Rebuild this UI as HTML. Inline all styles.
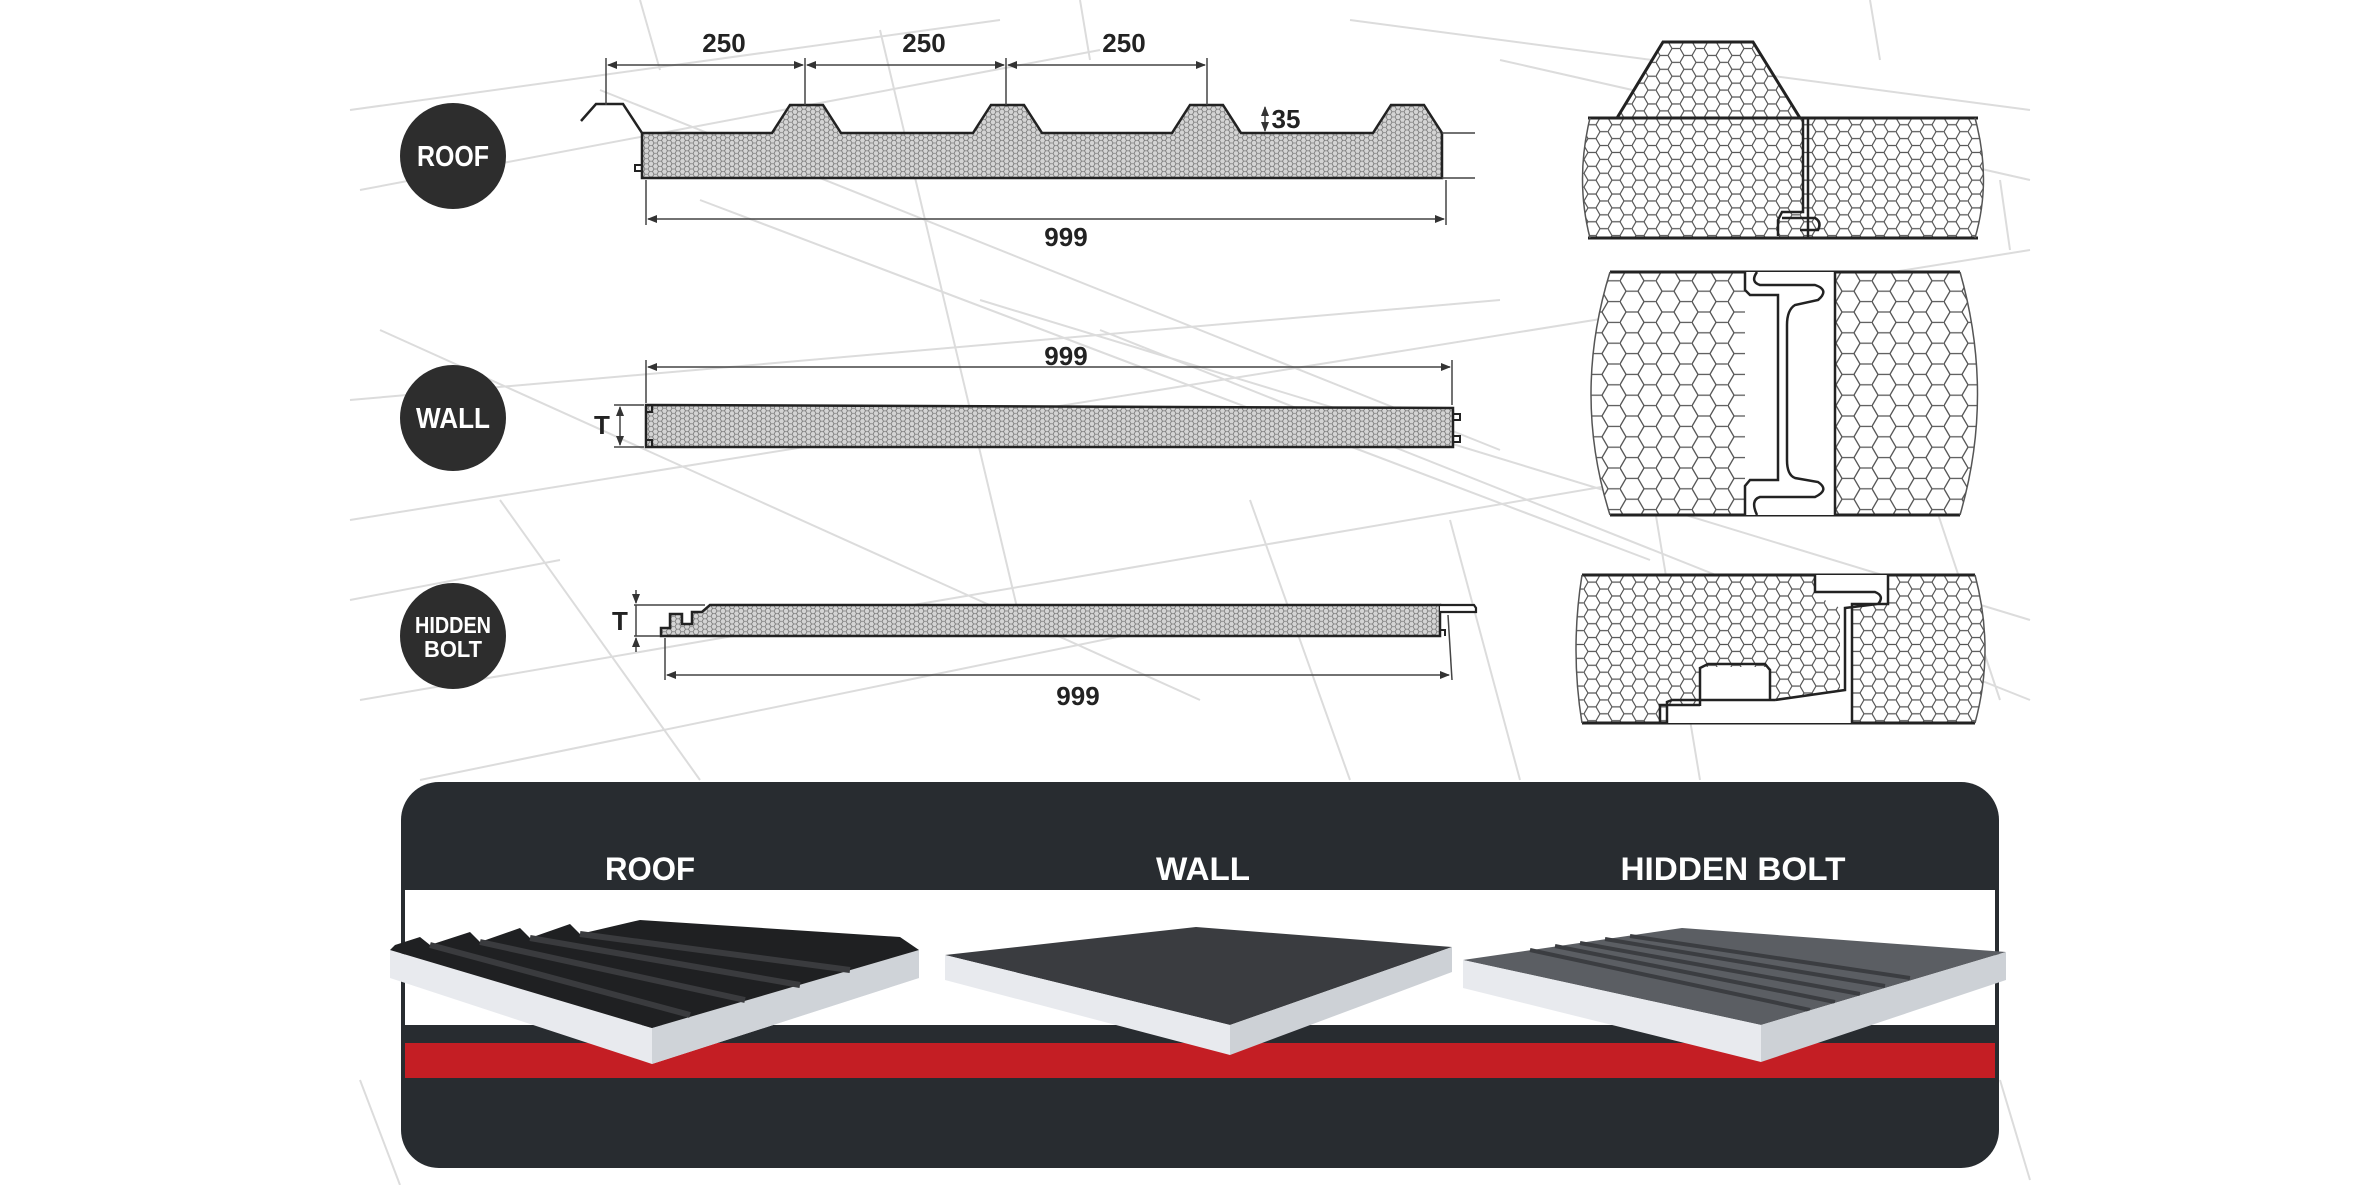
<!DOCTYPE html>
<html><head><meta charset="utf-8"><style>
html,body{margin:0;padding:0;background:#fff;}
svg{display:block;}
text{font-family:"Liberation Sans",sans-serif;font-weight:bold;}
</style></head><body>
<svg width="2370" height="1185" viewBox="0 0 2370 1185" xmlns="http://www.w3.org/2000/svg">
<defs>
<pattern id="hs" width="9" height="5.2" patternUnits="userSpaceOnUse">
<rect width="9" height="5.2" fill="#d4d4d4"/>
<path d="M0,2.6 L1.5,0 L4.5,0 L6,2.6 L9,2.6 M0,2.6 L1.5,5.2 L4.5,5.2 L6,2.6" fill="none" stroke="#777" stroke-width="0.8"/>
</pattern>
<pattern id="hm" width="24" height="13.86" patternUnits="userSpaceOnUse">
<rect width="24" height="13.86" fill="#fff"/>
<path d="M0,6.93 L4,0 L12,0 L16,6.93 L24,6.93 M0,6.93 L4,13.86 L12,13.86 L16,6.93" fill="none" stroke="#555" stroke-width="1.2"/>
</pattern>
<pattern id="hl" width="36" height="20.8" patternUnits="userSpaceOnUse">
<rect width="36" height="20.8" fill="#fff"/>
<path d="M0,10.4 L6,0 L18,0 L24,10.4 L36,10.4 M0,10.4 L6,20.8 L18,20.8 L24,10.4" fill="none" stroke="#555" stroke-width="1.3"/>
</pattern>
<marker id="ar" markerWidth="10" markerHeight="8" refX="9" refY="4" orient="auto-start-reverse" markerUnits="userSpaceOnUse"><path d="M0,0 L10,4 L0,8 z" fill="#333"/></marker>
</defs>

<g stroke="#dcdcdc" stroke-width="2" fill="none">
<path d="M350,110 L1000,20 M360,190 L1100,50 M350,400 L1500,300 M350,520 L2030,250 M360,700 L1700,470 M420,780 L1200,620 M980,300 L2030,620 M700,200 L1650,560 M1350,20 L2030,110 M1500,60 L2030,180 M380,330 L1200,700 M600,90 L1500,450 M1100,330 L2030,700 M500,500 L700,780 M1250,500 L1350,780 M1450,520 L1520,780 M1650,480 L1700,780 M1900,400 L2000,700 M880,30 L1020,620 M640,0 L660,70 M1080,0 L1090,60 M1870,0 L1880,60 M350,600 L560,560 M2000,180 L2010,250 M360,1080 L400,1185 M2000,1080 L2030,1180"/>
</g>

<g fill="#2d2d2d">
<circle cx="453" cy="156" r="53"/>
<circle cx="453" cy="418" r="53"/>
<circle cx="453" cy="636" r="53"/>
</g>
<g fill="#fff" text-anchor="middle">
<text x="453" y="166" font-size="29" textLength="72" lengthAdjust="spacingAndGlyphs">ROOF</text>
<text x="453" y="428" font-size="29" textLength="74" lengthAdjust="spacingAndGlyphs">WALL</text>
<text x="453" y="633" font-size="23" textLength="76" lengthAdjust="spacingAndGlyphs">HIDDEN</text>
<text x="453" y="657" font-size="23" textLength="58" lengthAdjust="spacingAndGlyphs">BOLT</text>
</g>

<path d="M642,133 L772,133 L790,105 L823,105 L841,133 L973,133 L991,105 L1024,105 L1042,133 L1172,133 L1190,105 L1223,105 L1241,133 L1373,133 L1391,105 L1424,105 L1442,133 L1442,178 L642,178 Z" fill="url(#hs)" stroke="#222" stroke-width="2.5"/>
<path d="M581,121 L596,104 L623,104 L642,133" fill="none" stroke="#222" stroke-width="2.5"/>
<path d="M642,165 L635,165 L635,171 L642,171" fill="none" stroke="#222" stroke-width="2"/>
<g stroke="#444" stroke-width="1.5" fill="none">
<line x1="606" y1="58" x2="606" y2="105"/><line x1="805" y1="58" x2="805" y2="105"/><line x1="1006" y1="58" x2="1006" y2="105"/><line x1="1207" y1="58" x2="1207" y2="105"/>
<line x1="608" y1="65" x2="803" y2="65" marker-start="url(#ar)" marker-end="url(#ar)"/>
<line x1="807" y1="65" x2="1004" y2="65" marker-start="url(#ar)" marker-end="url(#ar)"/>
<line x1="1008" y1="65" x2="1205" y2="65" marker-start="url(#ar)" marker-end="url(#ar)"/>
<line x1="1265" y1="107" x2="1265" y2="131" marker-start="url(#ar)" marker-end="url(#ar)"/>
<line x1="1442" y1="133" x2="1475" y2="133"/><line x1="1442" y1="178" x2="1475" y2="178"/>
<line x1="646" y1="180" x2="646" y2="225"/><line x1="1446" y1="180" x2="1446" y2="225"/>
<line x1="648" y1="219" x2="1444" y2="219" marker-start="url(#ar)" marker-end="url(#ar)"/>
</g>
<g fill="#222" font-size="26" text-anchor="middle">
<text x="724" y="52">250</text><text x="924" y="52">250</text><text x="1124" y="52">250</text>
<text x="1286" y="128">35</text>
<text x="1066" y="246">999</text>
</g>

<path d="M646,405 L1453,408 L1453,447 L646,447 Z" fill="url(#hs)" stroke="#222" stroke-width="2.5"/>
<path d="M646,405 L652,405 L652,412 L646,412 M646,440 L652,440 L652,447 M1453,414 L1460,414 L1460,420 L1453,420 M1453,436 L1460,436 L1460,442 L1453,442" fill="none" stroke="#222" stroke-width="2"/>
<g stroke="#444" stroke-width="1.5" fill="none">
<line x1="646" y1="360" x2="646" y2="403"/><line x1="1452" y1="360" x2="1452" y2="405"/>
<line x1="648" y1="367" x2="1450" y2="367" marker-start="url(#ar)" marker-end="url(#ar)"/>
<line x1="620" y1="407" x2="620" y2="445" marker-start="url(#ar)" marker-end="url(#ar)"/>
<line x1="614" y1="405" x2="644" y2="405"/><line x1="614" y1="447" x2="644" y2="447"/>
</g>
<g fill="#222" font-size="26" text-anchor="middle">
<text x="1066" y="365">999</text>
<text x="602" y="434">T</text>
</g>

<path d="M661,636 L661,628 L670,628 L670,614 L682,614 L682,624 L692,624 L692,612 L702,612 L710,605 L1440,605 L1440,612 L1440,636 Z" fill="url(#hs)" stroke="#222" stroke-width="2.5"/>
<path d="M1440,605 L1474,605 L1476,608 L1476,612 L1440,612" fill="#fff" stroke="#222" stroke-width="2.2"/>
<path d="M1440,630 L1445,630 L1445,636" fill="none" stroke="#222" stroke-width="2"/>
<g stroke="#444" stroke-width="1.5" fill="none">
<line x1="634" y1="605" x2="705" y2="605"/><line x1="634" y1="636" x2="660" y2="636"/>
<line x1="636" y1="590" x2="636" y2="603" marker-end="url(#ar)"/>
<line x1="636" y1="652" x2="636" y2="638" marker-end="url(#ar)"/>
<line x1="636" y1="605" x2="636" y2="636"/>
<line x1="665" y1="638" x2="665" y2="680"/><line x1="1448" y1="615" x2="1452" y2="680"/>
<line x1="667" y1="675" x2="1449" y2="675" marker-start="url(#ar)" marker-end="url(#ar)"/>
</g>
<g fill="#222" font-size="26" text-anchor="middle">
<text x="620" y="630">T</text>
<text x="1078" y="705">999</text>
</g>

<path d="M1590,118 L1617,118 L1663,42 L1753,42 L1800,118 L1975,118 Q1992,180 1975,238 L1590,238 Q1575,180 1590,118 Z" fill="url(#hm)" stroke="none"/>
<path d="M1617,118 L1663,42 L1753,42 L1800,118" fill="none" stroke="#222" stroke-width="3"/>
<line x1="1588" y1="118" x2="1978" y2="118" stroke="#222" stroke-width="3"/>
<line x1="1588" y1="238" x2="1978" y2="238" stroke="#222" stroke-width="3"/>
<path d="M1590,118 Q1575,180 1590,238 M1975,118 Q1992,180 1975,238" fill="none" stroke="#555" stroke-width="1.5"/>
<path d="M1803,118 L1803,212 L1782,212 L1778,220 L1778,236 M1808,118 L1808,238 M1782,218 L1815,218 Q1822,222 1818,230 L1800,230" fill="none" stroke="#222" stroke-width="2.5"/>

<path d="M1610,272 L1960,272 Q1995,395 1960,515 L1610,515 Q1572,395 1610,272 Z" fill="url(#hl)"/>
<path d="M1610,272 L1960,272 M1610,515 L1960,515" stroke="#222" stroke-width="3"/>
<path d="M1610,272 Q1572,395 1610,515 M1960,272 Q1995,395 1960,515" fill="none" stroke="#555" stroke-width="1.5"/>
<rect x="1745" y="272" width="90" height="243" fill="#fff"/>
<path d="M1745,272 L1745,290 L1750,295 L1778,295 L1778,480 L1750,480 L1745,486 L1745,515 M1757,272 Q1750,282 1760,285 L1815,285 Q1830,290 1818,300 L1795,305 Q1787,310 1787,325 L1787,460 Q1787,475 1795,478 L1818,482 Q1830,490 1815,497 L1760,497 Q1750,500 1757,515 M1835,272 L1835,515" fill="none" stroke="#222" stroke-width="2.5"/>

<path d="M1582,575 L1975,575 Q1995,650 1975,723 L1582,723 Q1570,650 1582,575 Z" fill="url(#hm)"/>
<path d="M1582,575 L1975,575 M1582,723 L1975,723" stroke="#222" stroke-width="3"/>
<path d="M1582,575 Q1570,650 1582,723 M1975,575 Q1995,650 1975,723" fill="none" stroke="#555" stroke-width="1.5"/>
<path d="M1815,575 L1888,575 L1888,604 L1852,604 L1852,700 L1853,723 L1667,723 L1667,706 L1700,706 L1700,667 L1770,667 L1770,700 L1840,692 L1840,608 L1815,595 Z" fill="#fff"/>
<path d="M1815,575 L1815,592 L1875,592 Q1885,596 1878,604 L1845,608 L1845,690 L1775,700 M1888,575 L1888,604 L1852,604 L1852,723 M1700,706 L1700,668 L1708,664 L1765,664 L1770,670 L1770,700 M1667,723 L1667,702 L1672,700 L1775,700 M1660,723 L1660,705 L1700,705" fill="none" stroke="#222" stroke-width="2.5"/>

<rect x="401" y="782" width="1598" height="386" rx="38" fill="#282c30"/>
<rect x="405" y="890" width="1590" height="135" fill="#fff"/>
<rect x="405" y="1043" width="1590" height="35" fill="#c41e24"/>
<g fill="#fff" font-size="32" text-anchor="middle">
<text x="650" y="880" textLength="90" lengthAdjust="spacingAndGlyphs">ROOF</text>
<text x="1203" y="880" textLength="94" lengthAdjust="spacingAndGlyphs">WALL</text>
<text x="1733" y="880" textLength="225" lengthAdjust="spacingAndGlyphs">HIDDEN BOLT</text>
</g>

<path d="M390,950 L652,1028 L919,950 L919,978 L652,1064 L390,978 Z" fill="#e8eaee"/>
<path d="M652,1028 L919,950 L919,978 L652,1064 Z" fill="#cfd3d8"/>
<path d="M390,950 L395,945 L420,937 L430,945 L470,932 L480,942 L520,928 L530,938 L570,924 L580,934 L640,920 L900,937 L919,950 L652,1028 Z" fill="#1f2022"/>
<path d="M430,945 L690,1015 M480,942 L745,1000 M530,938 L800,985 M580,934 L850,970" stroke="#3a3b3e" stroke-width="6"/>

<path d="M945,955 L1196,927 L1452,947 L1230,1025 Z" fill="#3a3c40"/>
<path d="M945,955 L1230,1025 L1230,1055 L945,980 Z" fill="#e8eaee"/>
<path d="M1230,1025 L1452,947 L1452,972 L1230,1055 Z" fill="#cdd1d6"/>

<path d="M1463,960 L1682,928 L2006,952 L1761,1025 Z" fill="#5b5e63"/>
<path d="M1530,950 L1810,1010 M1555,946 L1835,1002 M1580,943 L1860,994 M1605,939 L1885,986 M1630,936 L1910,978" stroke="#3b3d41" stroke-width="4"/>
<path d="M1463,960 L1761,1025 L1761,1062 L1463,988 Z" fill="#e8eaee"/>
<path d="M1761,1025 L2006,952 L2006,980 L1761,1062 Z" fill="#cdd1d6"/>
</svg>
</body></html>
